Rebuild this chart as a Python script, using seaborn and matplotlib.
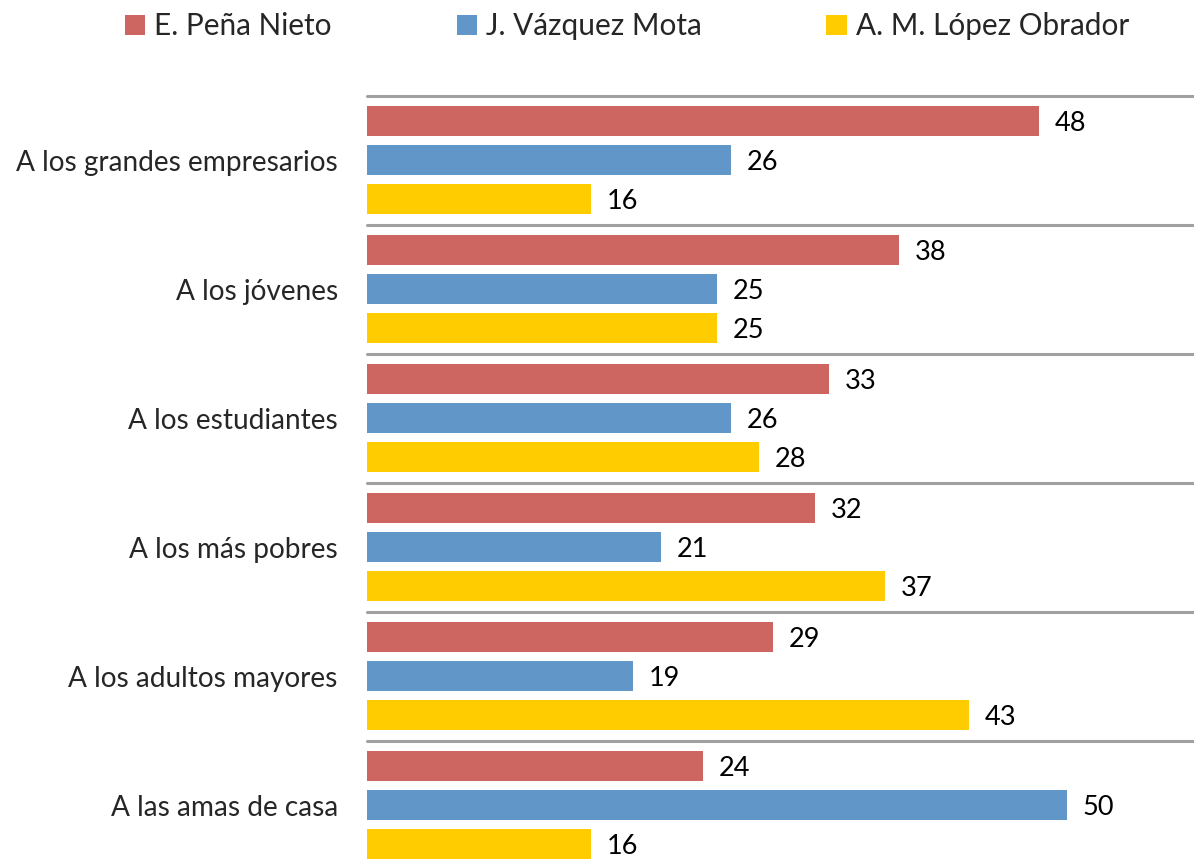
import matplotlib
matplotlib.use("Agg")
import matplotlib.pyplot as plt
import seaborn as sns
import pandas as pd
import numpy as np

categories = [
    "A los grandes empresarios",
    "A los jóvenes",
    "A los estudiantes",
    "A los más pobres",
    "A los adultos mayores",
    "A las amas de casa",
]
candidates = ["E. Peña Nieto", "J. Vázquez Mota", "A. M. López Obrador"]
pena_nieto = [48, 38, 33, 32, 29, 24]
vazquez_mota = [26, 25, 26, 21, 19, 50]
lopez_obrador = [16, 25, 28, 37, 43, 16]
colors = ["#CD6660", "#6196C8", "#FFCC00"]

df = pd.DataFrame({
    "categoria": categories * 3,
    "candidato": [c for c in candidates for _ in categories],
    "valor": pena_nieto + vazquez_mota + lopez_obrador,
})

sns.set_style("white")
plt.rcParams["font.family"] = ["Lato", "DejaVu Sans"]

fig = plt.figure(figsize=(11.94, 8.66), dpi=100)
ax = fig.add_axes([0.3074, -0.0043, 0.6926, 0.8938])

sns.barplot(data=df, y="categoria", x="valor", hue="candidato", orient="h",
            order=categories, hue_order=candidates, palette=colors,
            saturation=1, width=0.912, gap=0.235, linewidth=0, ax=ax)

for cont in ax.containers:
    labels = ax.bar_label(cont, padding=11, fontsize=19.5, color="black")
    for t in labels:
        t.set_va("center_baseline")

for y in np.arange(len(categories) + 1) - 0.5:
    ax.axhline(y, color="#A0A0A0", lw=2.2, clip_on=False, zorder=0)

ax.set_xlim(0, 59.07)
ax.set_ylim(len(categories) - 0.5, -0.5)
ax.set_xlabel("")
ax.set_ylabel("")
ax.set_xticks([])
ax.tick_params(axis="y", length=0, pad=21, labelsize=20.2)
sns.despine(ax=ax, left=True, bottom=True)

handles, labels = ax.get_legend_handles_labels()
ax.legend_.remove()
fig.legend(handles, labels, loc="center", bbox_to_anchor=(627 / 1194, 1 - 26 / 866),
           ncol=3, frameon=False, fontsize=21.4, handlelength=0.68,
           handleheight=0.66, handletextpad=0.3, columnspacing=4.2)

fig.savefig("out.png", dpi=100)
